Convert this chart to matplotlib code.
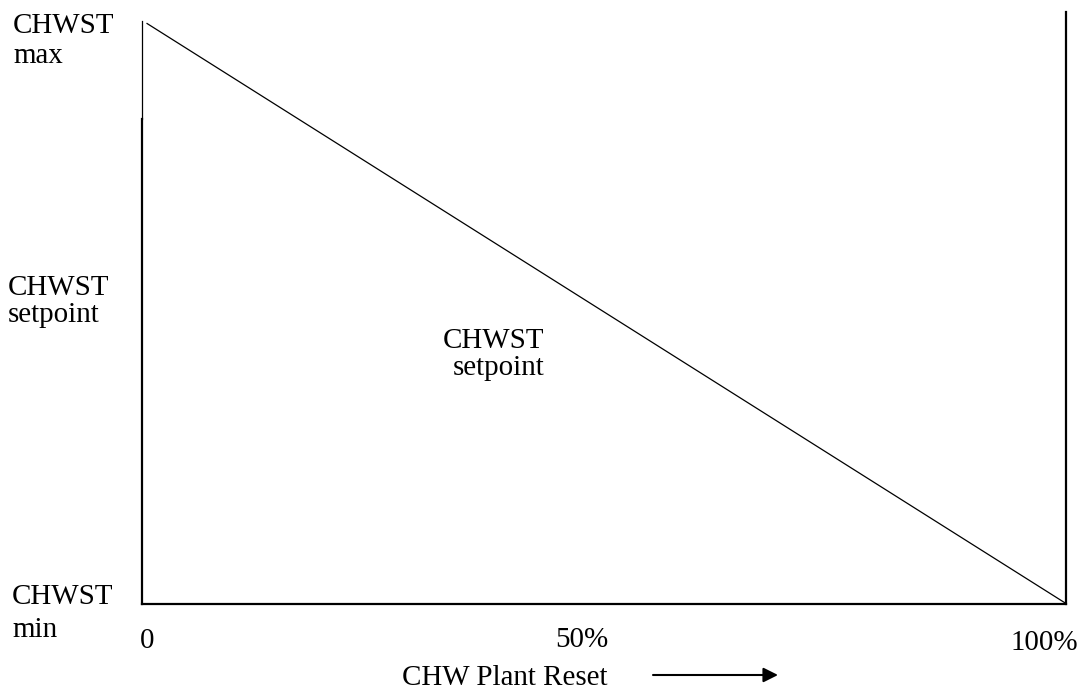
import matplotlib
matplotlib.use("Agg")
import matplotlib.pyplot as plt

# ------------------------------------------------------------
# CHW plant reset: setpoint goes from max at 0% down to min at 100%
# ------------------------------------------------------------
reset_pct = [0.6, 100]          # plant reset, %
setpoint = [1.0, 0.0]           # 1 = CHWST max, 0 = CHWST min
x_ticks = ["0", "50%", "100%"]

W, H = 1082, 691
plt.rcParams['font.family'] = ['Liberation Serif', 'DejaVu Serif']
fs = 20.9

fig = plt.figure(figsize=(W / 100, H / 100), dpi=100)

# axes box in pixels: left 141.5, right 1066, bottom 603.5, top 12
x0, x1, y0, y1 = 141.5, 1066, 603.5, 12
ax = fig.add_axes([x0 / W, (H - y0) / H, (x1 - x0) / W, (y0 - y1) / H])
ax.set_xlim(0, 100)
ax.set_ylim(0, (y0 - y1) / 580)
ax.set_xticks([])
ax.set_yticks([])
ax.patch.set_alpha(0)

ax.spines['top'].set_visible(False)
for s in ['bottom', 'right', 'left']:
    ax.spines[s].set_linewidth(1.6)
ax.spines['left'].set_bounds(0, 0.836)
# thin upper part of the left axis
ax.plot([0, 0], [0.836, 1.005], color='black', lw=0.9, clip_on=False)

ax.plot(reset_pct, setpoint, color='black', lw=0.9)


def txt(x, y, s, ha='left'):
    fig.text(x / W, 1 - y / H, s, fontsize=fs, va='baseline', ha=ha)


# left labels
txt(13, 33, "CHWST")
txt(13, 63, "max")
txt(8, 295, "CHWST")
txt(8, 322, "setpoint")
txt(12, 604, "CHWST")
txt(12, 637, "min")

# middle label
txt(443, 348, "CHWST")
txt(453, 375, "setpoint")

# x tick labels
txt(140, 648, x_ticks[0])
txt(555, 647, x_ticks[1])
txt(1078, 650, x_ticks[2], ha='right')

# x axis title with arrow
txt(402, 685, "CHW Plant Reset")
fig.add_artist(matplotlib.patches.FancyArrowPatch(
    (653 / W, 1 - 675 / H), (778 / W, 1 - 675 / H),
    transform=fig.transFigure, arrowstyle='-|>', mutation_scale=22,
    color='black', lw=1.5, shrinkA=0, shrinkB=0))

fig.savefig("out.png", dpi=100)
